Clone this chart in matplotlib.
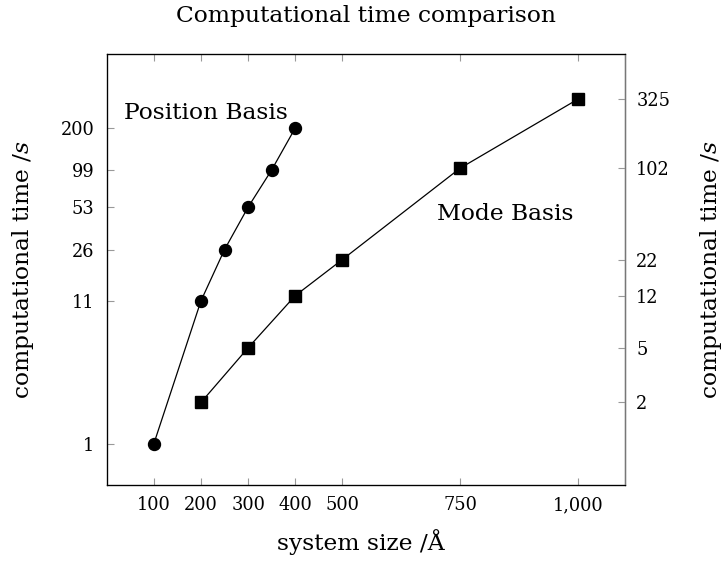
import matplotlib
matplotlib.use("Agg")
import matplotlib.pyplot as plt
from matplotlib.ticker import FixedLocator, NullLocator, FuncFormatter

plt.rcParams['font.family'] = ['DejaVu Serif']
plt.rcParams['mathtext.fontset'] = 'dejavuserif'

# timings in seconds
pos_size = [100, 200, 250, 300, 350, 400]
pos_time = [1, 11, 26, 53, 99, 200]
mode_size = [200, 300, 400, 500, 750, 1000]
mode_time = [2, 5, 12, 22, 102, 325]
xticks = [100, 200, 300, 400, 500, 750, 1000]

W, H = 723, 564
fig = plt.figure(figsize=(W / 100, H / 100), dpi=100)
ax = fig.add_axes([0.1476, 0.140, 0.7169, 0.7637])
ax2 = ax.twinx()

ax.plot(pos_size, pos_time, color='black', lw=0.9, marker='o', ms=8.6)
ax2.plot(mode_size, mode_time, color='black', lw=0.9, marker='s', ms=8.2)

for a in (ax, ax2):
    a.set_yscale('log')
    a.set_ylim(0.5, 690)
    a.set_xlim(0, 1100)
    a.yaxis.set_minor_locator(NullLocator())

ax.yaxis.set_major_locator(FixedLocator(pos_time))
ax.yaxis.set_major_formatter(FuncFormatter(lambda v, p: '%d' % round(v)))
ax2.yaxis.set_major_locator(FixedLocator(mode_time))
ax2.yaxis.set_major_formatter(FuncFormatter(lambda v, p: '%d' % round(v)))
ax.set_xticks(xticks)
ax.set_xticklabels(['{:,}'.format(v) for v in xticks])

fs = 12.8
big = 16.8
ax.tick_params(axis='x', direction='in', top=True, length=5, color='#999999',
               labelsize=fs, pad=8)
ax.tick_params(axis='y', direction='in', length=5, color='#999999',
               labelsize=fs, pad=9)
ax2.tick_params(axis='y', direction='in', length=5, color='#999999',
                labelsize=fs, pad=8)
for s in ax.spines.values():
    s.set_linewidth(0.9)
ax2.spines['right'].set_color('#777777')

# labels placed in figure pixels
fig.text(366 / W, 1 - 16 / H, 'Computational time comparison', fontsize=big,
         ha='center', va='center')
fig.text(361 / W, 1 - 542 / H, 'system size /Å', fontsize=big,
         ha='center', va='center')
fig.text(23 / W, 1 - 270 / H, 'computational time /$s$', fontsize=big,
         ha='center', va='center', rotation=90)
fig.text(711 / W, 1 - 270 / H, 'computational time /$s$', fontsize=big,
         ha='center', va='center', rotation=90)

ax.text(37, 257, 'Position Basis', fontsize=big, ha='left', va='center')
ax2.text(700, 47, 'Mode Basis', fontsize=big, ha='left', va='center')

fig.savefig('out.png', dpi=100)
